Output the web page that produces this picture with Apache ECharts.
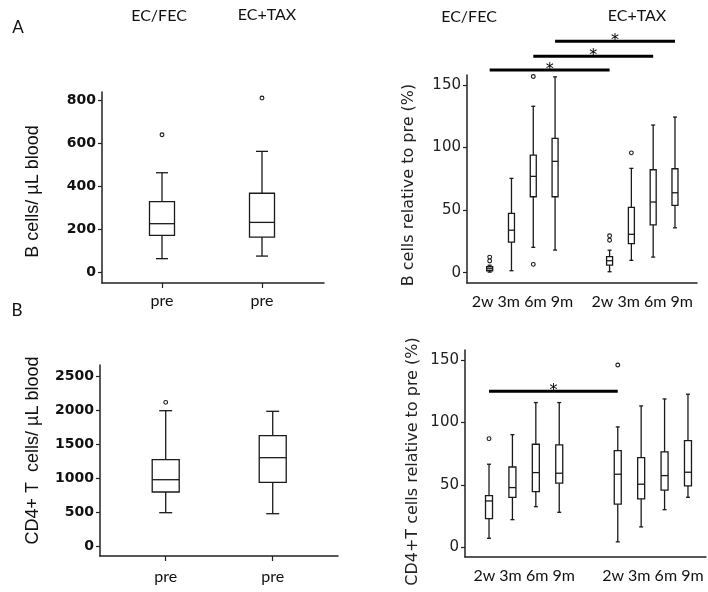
<!DOCTYPE html>
<html>
<head>
<meta charset="utf-8">
<title>B cells and CD4+ T cells</title>
<script src="https://cdn.jsdelivr.net/npm/echarts@6/dist/echarts.min.js"></script>
<style>
  html, body { margin: 0; padding: 0; background: #fff; }
  #chart { width: 708px; height: 592px; }
</style>
</head>
<body>
<div id="chart"></div>
<script>
// groups and time points
const groups = ["EC/FEC", "EC+TAX"];
const times = ["2w", "3m", "6m", "9m"];
const preLabels = ["pre", "pre"];

// box stats are [min, Q1, median, Q3, max]
// A left: B cells / µL blood before therapy
const bCellsPre = [[65, 173, 227, 329, 463], [77, 165, 233, 368, 562]];
const bCellsPreOut = [[0, 639], [1, 809]];
const bCellsTicks = [0, 200, 400, 600, 800];

// A right: B cells relative to pre (%)
const bRelEC = [[0.5, 1.6, 3.2, 4.8, 6], [1.6, 24.5, 34, 47.4, 75.4], [20.3, 60.7, 77, 94, 133], [18.1, 60.7, 89, 107.3, 156.5]];
const bRelTAX = [[0.8, 6.1, 9.6, 12.8, 18], [9.9, 23.2, 30.7, 52.2, 83.4], [12.5, 38.3, 56.5, 82.3, 118], [35.9, 53.8, 63.9, 83.1, 124.4]];
const bRelECOut = [[0, 12.5], [0, 9.4], [2, 156.8], [2, 6.7]];
const bRelTAXOut = [[0, 29.5], [0, 26], [1, 95.8]];
const bRelSigTimes = [0, 2, 3];
const bRelSigLevels = [162, 173, 185];

// B left: CD4+ T cells / µL blood before therapy
const cd4Pre = [[490, 794, 975, 1269, 1990], [475, 937, 1299, 1622, 1981]];
const cd4PreOut = [[0, 2113]];
const cd4Ticks = [0, 500, 1000, 1500, 2000, 2500];

// B right: CD4+ T cells relative to pre (%)
const cd4RelEC = [[7.2, 22.9, 37.1, 41.3, 66.5], [22.1, 40, 47.8, 64.3, 90.2], [32.5, 44.6, 59.8, 82.5, 115.9], [28, 51.3, 59.3, 82, 115.9]];
const cd4RelTAX = [[4.3, 34.5, 58.5, 77.4, 96.4], [16.3, 38.7, 50.5, 71.8, 113.2], [30.1, 45.7, 57.4, 76.4, 118.8], [40, 49.1, 60.1, 85.4, 122.6]];
const cd4RelECOut = [[0, 87]];
const cd4RelTAXOut = [[0, 146]];
const cd4RelSigTimes = [0];
const cd4RelSigLevels = [125];

const relTicks = [0, 50, 100, 150];

const groupGap = 5.5;
const ink = "#1a1a1a";
const axisLine = { show: true, onZero: false, lineStyle: { color: "#222", width: 1.5 } };

function boxRenderer(boxW, capW) {
  return function (params, api) {
    const x = api.value(0);
    const lo = api.coord([x, api.value(1)]);
    const q1 = api.coord([x, api.value(2)]);
    const md = api.coord([x, api.value(3)]);
    const q3 = api.coord([x, api.value(4)]);
    const hi = api.coord([x, api.value(5)]);
    const cx = lo[0];
    const ln = { stroke: ink, lineWidth: 1.3 };
    return {
      type: "group",
      children: [
        { type: "line", shape: { x1: cx, y1: hi[1], x2: cx, y2: q3[1] }, style: ln },
        { type: "line", shape: { x1: cx, y1: q1[1], x2: cx, y2: lo[1] }, style: ln },
        { type: "line", shape: { x1: cx - capW / 2, y1: hi[1], x2: cx + capW / 2, y2: hi[1] }, style: ln },
        { type: "line", shape: { x1: cx - capW / 2, y1: lo[1], x2: cx + capW / 2, y2: lo[1] }, style: ln },
        {
          type: "rect",
          shape: { x: cx - boxW / 2, y: q3[1], width: boxW, height: q1[1] - q3[1] },
          style: { fill: "#fff", stroke: ink, lineWidth: 1.3 },
        },
        { type: "line", shape: { x1: cx - boxW / 2, y1: md[1], x2: cx + boxW / 2, y2: md[1] }, style: ln },
      ],
    };
  };
}

function outRenderer(params, api) {
  const p = api.coord([api.value(0), api.value(1)]);
  return {
    type: "circle",
    shape: { cx: p[0], cy: p[1], r: 1.9 },
    style: { fill: "#fff", stroke: ink, lineWidth: 1.1 },
  };
}

function sigRenderer(params, api) {
  const a = api.coord([api.value(0), api.value(2)]);
  const b = api.coord([api.value(1), api.value(2)]);
  return {
    type: "group",
    children: [
      { type: "line", shape: { x1: a[0], y1: a[1], x2: b[0], y2: b[1] }, style: { stroke: "#000", lineWidth: 3 } },
      {
        type: "text",
        x: (a[0] + b[0]) / 2,
        y: a[1],
        style: { text: "*", font: "16px 'DejaVu Sans'", fill: "#000", align: "center", verticalAlign: "middle" },
      },
    ],
  };
}

function preBoxes(stats) {
  return stats.map((s, i) => [i].concat(s));
}
function relBoxes(stats, gi) {
  return stats.map((s, i) => [gi * groupGap + i].concat(s));
}
function relOut(points, gi) {
  return points.map((p) => [gi * groupGap + p[0], p[1]]);
}
function sigData(ts, levels) {
  return ts.map((t, i) => [t, t + groupGap, levels[i]]);
}

const preIdx = preLabels.map((_, i) => i);
const groupCenters = groups.map((_, gi) => gi * groupGap + (times.length - 1) / 2);

function preXAxis(gridIndex, min, max, margin) {
  return {
    gridIndex, type: "value", min, max,
    splitLine: { show: false },
    axisLine,
    axisTick: { show: true, customValues: preIdx, length: 5, lineStyle: { color: "#222", width: 1.2 } },
    axisLabel: {
      customValues: preIdx, margin,
      formatter: (v) => preLabels[Math.round(v)],
      fontFamily: "Lato", fontSize: 16, color: "#111",
    },
  };
}
function relXAxis(gridIndex, min, max) {
  return {
    gridIndex, type: "value", min, max,
    splitLine: { show: false },
    axisLine,
    axisTick: { show: false },
    axisLabel: {
      customValues: groupCenters, margin: 11,
      formatter: () => times.join(" "),
      fontFamily: "Lato", fontSize: 16, color: "#111",
    },
  };
}
function preYAxis(gridIndex, min, max, ticks, name, nameGap, namePad) {
  return {
    gridIndex, type: "value", min, max,
    splitLine: { show: false },
    axisLine,
    axisTick: { show: true, customValues: ticks, length: 4, lineStyle: { color: "#222", width: 1.2 } },
    axisLabel: {
      customValues: ticks, margin: 6,
      formatter: (v) => String(v),
      fontFamily: "DejaVu Sans", fontWeight: "bold", fontSize: 14, color: "#111",
    },
    name, nameLocation: "middle", nameGap,
    nameTextStyle: { fontFamily: "Liberation Sans", fontSize: 18, color: "#111", padding: namePad },
  };
}
function relYAxis(gridIndex, min, max, name, nameGap, namePad) {
  return {
    gridIndex, type: "value", min, max,
    splitLine: { show: false },
    axisLine,
    axisTick: { show: true, customValues: relTicks, length: 4, lineStyle: { color: "#222", width: 1.2 } },
    axisLabel: {
      customValues: relTicks, margin: 6,
      formatter: (v) => String(v),
      fontFamily: "DejaVu Sans", fontSize: 15, color: "#222",
    },
    name, nameLocation: "middle", nameGap,
    nameTextStyle: { fontFamily: "DejaVu Sans", fontSize: 16, color: "#222", padding: namePad },
  };
}

function boxSeries(idx, data, boxW, capW) {
  return {
    type: "custom", xAxisIndex: idx, yAxisIndex: idx,
    renderItem: boxRenderer(boxW, capW),
    encode: { x: 0, y: [1, 2, 3, 4, 5] },
    data,
  };
}
function outSeries(idx, data) {
  return {
    type: "custom", xAxisIndex: idx, yAxisIndex: idx,
    renderItem: outRenderer,
    encode: { x: 0, y: 1 },
    data,
  };
}
function sigSeries(idx, data) {
  return {
    type: "custom", xAxisIndex: idx, yAxisIndex: idx,
    renderItem: sigRenderer, clip: false,
    encode: { x: [0, 1], y: 2 },
    data,
  };
}

const txt = (x, y, text, size) => ({
  type: "text", x, y,
  style: { text, font: size + "px Lato", fill: "#111", align: "center", verticalAlign: "middle" },
});

const chart = echarts.init(document.getElementById("chart"));
const option = {
  animation: false,
  backgroundColor: "#fff",
  grid: [
    { left: 102, top: 92, width: 222, height: 191 },
    { left: 467, top: 75, width: 230, height: 208 },
    { left: 100, top: 365, width: 238, height: 191 },
    { left: 465, top: 350, width: 241, height: 207 },
  ],
  xAxis: [
    preXAxis(0, -0.6, 1.62, 10),
    relXAxis(1, -1.04, 9.51),
    preXAxis(2, -0.614, 1.61, 13),
    relXAxis(3, -1.026, 9.27),
  ],
  yAxis: [
    preYAxis(0, -47.7, 837, bCellsTicks, "B cells/ \u00b5L blood", 60, [0, 8, 0, 0]),
    relYAxis(1, -8.2, 158, "B cells relative to pre (%)", 50, [0, 12, 0, 0]),
    preYAxis(2, -147, 2662, cd4Ticks, "CD4+ T  cells/ \u00b5L blood", 58, [0, 0, 0, 20]),
    relYAxis(3, -7.8, 158, "CD4+T cells relative to pre (%)", 44, [0, 16, 0, 0]),
  ],
  graphic: [
    txt(18, 28, "A", 17),
    txt(17, 311, "B", 17),
    txt(159, 16, groups[0], 16),
    txt(267, 15, groups[1], 16),
    txt(469, 17, groups[0], 16),
    txt(637, 16, groups[1], 16),
  ],
  series: [
    boxSeries(0, preBoxes(bCellsPre), 25, 12),
    outSeries(0, bCellsPreOut),
    boxSeries(1, relBoxes(bRelEC, 0).concat(relBoxes(bRelTAX, 1)), 6, 4),
    outSeries(1, relOut(bRelECOut, 0).concat(relOut(bRelTAXOut, 1))),
    sigSeries(1, sigData(bRelSigTimes, bRelSigLevels)),
    boxSeries(2, preBoxes(cd4Pre), 27, 13),
    outSeries(2, cd4PreOut),
    boxSeries(3, relBoxes(cd4RelEC, 0).concat(relBoxes(cd4RelTAX, 1)), 7, 4),
    outSeries(3, relOut(cd4RelECOut, 0).concat(relOut(cd4RelTAXOut, 1))),
    sigSeries(3, sigData(cd4RelSigTimes, cd4RelSigLevels)),
  ],
};
chart.setOption(option);

window.addEventListener("resize", function () {
  chart.resize();
});
</script>
</body>
</html>
